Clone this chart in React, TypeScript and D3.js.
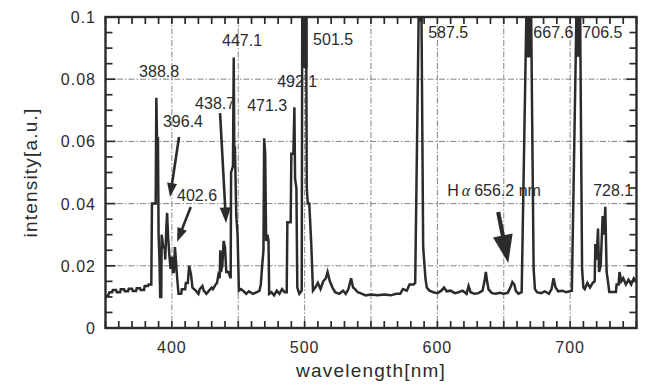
import * as d3 from 'd3';

const W = 647;
const H = 385;
const plot = { left: 105.5, right: 636.5, top: 17, bottom: 328 };

// emission spectrum: [wavelength nm, intensity a.u.]
const spectrum: [number, number][] = [
  [350, 0.01], [352, 0.0105], [353, 0.0115], [355, 0.0115], [355.5, 0.0122], [358, 0.0122],
  [358.5, 0.0115], [361, 0.0115], [361.5, 0.0125], [364, 0.0125], [364.5, 0.0118], [367, 0.0118],
  [367.5, 0.0126], [370, 0.0126], [370.5, 0.0119], [373, 0.0119], [373.5, 0.0128], [376, 0.0128],
  [376.5, 0.0122], [379, 0.0122], [379.5, 0.0135], [382, 0.0135], [382.5, 0.014], [384.5, 0.014],
  [385, 0.04], [387.8, 0.04], [388.3, 0.074], [388.8, 0.061], [389.5, 0.061], [390, 0.03],
  [390.7, 0.021], [391.2, 0.01], [392, 0.01], [392.3, 0.03], [393.5, 0.026], [394.5, 0.026],
  [395, 0.022], [395.8, 0.032], [396.4, 0.037], [397.2, 0.029], [398, 0.024], [399, 0.019],
  [400, 0.023], [400.8, 0.018], [401.5, 0.018], [402.3, 0.026], [403, 0.022], [404, 0.016],
  [405, 0.011], [407, 0.011], [407.5, 0.0125], [410, 0.0125], [410.5, 0.0145], [412, 0.0145],
  [413, 0.02], [414.5, 0.017], [415.5, 0.013], [418, 0.012], [420, 0.011], [421, 0.0125],
  [423, 0.0135], [424, 0.012], [426, 0.011], [428, 0.012], [430, 0.013], [431, 0.0125],
  [433, 0.014], [434, 0.0145], [435, 0.017], [436, 0.016], [436.5, 0.025], [437, 0.018],
  [438, 0.02], [439, 0.028], [440, 0.026], [441, 0.018], [442.5, 0.018], [444.3, 0.016],
  [444.6, 0.05], [446, 0.052], [446.6, 0.087], [447, 0.058], [447.5, 0.058], [448.5, 0.036],
  [449.5, 0.03], [450.5, 0.012], [452, 0.0125], [454, 0.0118], [456, 0.011], [458, 0.0118],
  [461, 0.011], [464, 0.0115], [466, 0.012], [467, 0.014], [468, 0.02], [469, 0.025],
  [469.5, 0.061], [470.3, 0.056], [471, 0.028], [472, 0.03], [472.8, 0.028], [473.3, 0.011],
  [475, 0.0115], [477, 0.0105], [479, 0.012], [481, 0.011], [483, 0.0125], [485, 0.0115],
  [486.5, 0.0115], [487, 0.034], [489.5, 0.034], [490, 0.056], [491.5, 0.056], [492.3, 0.071],
  [492.8, 0.048], [493.8, 0.045], [494.5, 0.013], [496, 0.011], [497.8, 0.012], [498.3, 0.12],
  [501, 0.12], [501.6, 0.045], [502.4, 0.04], [503.5, 0.04], [505, 0.027], [506.3, 0.012],
  [508, 0.013], [510, 0.0145], [512, 0.0125], [514, 0.015], [516, 0.016], [517.3, 0.018],
  [519, 0.015], [521, 0.013], [523, 0.0115], [526, 0.011], [529, 0.012], [531, 0.011],
  [533, 0.0125], [535, 0.016], [536.5, 0.013], [538, 0.0125], [540, 0.0115], [542, 0.0112],
  [546, 0.0105], [550, 0.0108], [555, 0.0105], [560, 0.0108], [565, 0.0105], [569, 0.011],
  [572, 0.011], [574, 0.0125], [577, 0.012], [579, 0.014], [582, 0.014], [583.3, 0.0145],
  [586.5, 0.12], [587.7, 0.12], [589.3, 0.026], [591, 0.016], [592, 0.013], [594, 0.012],
  [597, 0.0115], [600, 0.0112], [603, 0.012], [605, 0.013], [607, 0.0118], [610, 0.012],
  [613, 0.0112], [616, 0.0115], [619, 0.012], [622, 0.011], [623.5, 0.0135], [625, 0.0115],
  [628, 0.011], [631, 0.0112], [634, 0.012], [635.5, 0.015], [636.5, 0.018], [637.5, 0.015],
  [638.5, 0.0125], [641, 0.0112], [644, 0.011], [647, 0.0113], [650, 0.011], [653, 0.0113],
  [655.5, 0.0135], [656.5, 0.0148], [658, 0.014], [659, 0.012], [661, 0.011], [663.5, 0.0115],
  [667.8, 0.12], [670.2, 0.12], [672.5, 0.019], [673.5, 0.0125], [675, 0.0115], [678, 0.0112],
  [681, 0.0118], [684, 0.011], [686, 0.0125], [687.5, 0.016], [689, 0.013], [691, 0.0118],
  [694, 0.012], [697, 0.0115], [701.3, 0.012], [705.5, 0.12], [707.2, 0.12], [709, 0.019],
  [710, 0.013], [711, 0.0125], [713, 0.0145], [715, 0.013], [717, 0.0145], [718.5, 0.015],
  [719, 0.027], [720, 0.022], [721, 0.032], [721.8, 0.018], [723, 0.02], [724.5, 0.036],
  [725.5, 0.03], [726.5, 0.039], [727.5, 0.018], [728.5, 0.015], [729.5, 0.0116], [734.5, 0.0116],
  [735, 0.014], [736.5, 0.014], [737.2, 0.018], [738.5, 0.015], [740, 0.016], [742, 0.014],
  [744, 0.0155], [746, 0.014], [748, 0.016], [750, 0.015],
];

// saturated peak tops that print as solid black: [from nm, to nm, lower intensity]
const saturated: [number, number, number][] = [
  [498.1, 502.3, 0.0836], [585.6, 589.0, 0.0985], [666.2, 670.7, 0.087], [703.8, 708.1, 0.0872],
];

const peakNames = ['388.8', '396.4', '402.6', '438.7', '447.1', '471.3', '492.1', '501.5', '587.5', '667.6', '706.5', '728.1'];
const peakLabelAt: [number, number][] = [
  [375.3, 0.0807], [393.3, 0.0646], [403.9, 0.0408], [417.5, 0.0704], [437.8, 0.0907], [456.7, 0.0698],
  [479.3, 0.0775], [506.4, 0.091], [593.1, 0.0932], [672.3, 0.0932], [709.2, 0.0932], [717.4, 0.0424],
];
const halphaAt: [number, number] = [607.4, 0.0424];

// arrows: [tail nm, tail I, tip nm, tip I, head size]
const arrows: [number, number, number, number, number][] = [
  [405.4, 0.0614, 398.6, 0.0421, 1],
  [414.2, 0.0389, 403.9, 0.0277, 1],
  [436.3, 0.0691, 440.8, 0.0338, 1.1],
  [645.8, 0.0373, 653.4, 0.0209, 2],
];

const xTicks = [400, 500, 600, 700];
const xGrid = [400, 450, 500, 550, 600, 650, 700];
const yTicks = [0, 0.02, 0.04, 0.06, 0.08, 0.1];
const yTickLabels = ['0', '0.02', '0.04', '0.06', '0.08', '0.1'];

const ink = '#2b2b2b';
const font = 'Liberation Sans, Arial, Helvetica, sans-serif';

export default function App() {
  const x = d3.scaleLinear().domain([350, 750]).range([plot.left, plot.right]);
  const y = d3.scaleLinear().domain([0, 0.1]).range([plot.bottom, plot.top]);
  const line = d3
    .line<[number, number]>()
    .x((d) => x(d[0]))
    .y((d) => y(d[1]));

  const xMinor = d3.range(350, 751, 10);
  const yMinor = d3.range(0, 0.1001, 0.005);

  return (
    <svg width={W} height={H} style={{ position: 'absolute', left: 0, top: 0, background: '#fff' }}>
      <defs>
        <clipPath id="plotClip">
          <rect x={plot.left} y={plot.top} width={plot.right - plot.left} height={plot.bottom - plot.top} />
        </clipPath>
      </defs>

      {/* grid */}
      {xGrid.map((v) => (
        <line key={'gx' + v} x1={x(v)} x2={x(v)} y1={plot.top} y2={plot.bottom} stroke="#777" strokeWidth={0.9} strokeDasharray="6,2,1.5,2" />
      ))}
      {yTicks.slice(1, -1).map((v) => (
        <line key={'gy' + v} x1={plot.left} x2={plot.right} y1={y(v)} y2={y(v)} stroke="#777" strokeWidth={0.9} strokeDasharray="6,2,1.5,2" />
      ))}

      {/* spectrum */}
      <g clipPath="url(#plotClip)">
        <path d={line(spectrum) ?? ''} fill="none" stroke={ink} strokeWidth={2.5} strokeLinejoin="miter" />
        {saturated.map(([a, b, lo]) => (
          <rect key={'s' + a} x={x(a)} y={y(0.1)} width={x(b) - x(a)} height={y(lo) - y(0.1)} fill={ink} />
        ))}
      </g>

      {/* inward ticks */}
      {xMinor.map((v) => (
        <g key={'tx' + v} stroke={ink} strokeWidth={1.7}>
          <line x1={x(v)} x2={x(v)} y1={plot.bottom} y2={plot.bottom - 7} />
          <line x1={x(v)} x2={x(v)} y1={plot.top} y2={plot.top + 7} />
        </g>
      ))}
      {yMinor.map((v, i) => {
        const len = i % 4 === 0 ? 10 : 7;
        return (
          <g key={'ty' + i} stroke={ink} strokeWidth={1.7}>
            <line x1={plot.left} x2={plot.left + len} y1={y(v)} y2={y(v)} />
            <line x1={plot.right} x2={plot.right - len} y1={y(v)} y2={y(v)} />
          </g>
        );
      })}

      {/* frame */}
      <rect x={plot.left} y={plot.top} width={plot.right - plot.left} height={plot.bottom - plot.top} fill="none" stroke={ink} strokeWidth={2.4} />

      {/* tick labels */}
      {xTicks.map((v) => (
        <text key={'lx' + v} x={x(v)} y={353} textAnchor="middle" fontFamily={font} fontSize={16} letterSpacing={1} fill={ink}>
          {v}
        </text>
      ))}
      {yTicks.map((v, i) => (
        <text key={'ly' + v} x={96} y={y(v) + 6} textAnchor="end" fontFamily={font} fontSize={16} letterSpacing={1} fill={ink}>
          {yTickLabels[i]}
        </text>
      ))}

      {/* axis titles */}
      <text x={(plot.left + plot.right) / 2} y={377} textAnchor="middle" fontFamily={font} fontSize={19} letterSpacing={1.2} fill={ink}>
        wavelength[nm]
      </text>
      <text transform={`translate(37,${(plot.top + plot.bottom) / 2}) rotate(-90)`} textAnchor="middle" fontFamily={font} fontSize={19} letterSpacing={1.2} fill={ink}>
        intensity[a.u.]
      </text>

      {/* peak labels */}
      {peakNames.map((t, i) => (
        <text key={'pk' + t} x={x(peakLabelAt[i][0])} y={y(peakLabelAt[i][1])} fontFamily={font} fontSize={16} fill={ink}>
          {t}
        </text>
      ))}
      <text x={x(halphaAt[0])} y={y(halphaAt[1])} fontFamily={font} fontSize={16} fill={ink}>
        H
        <tspan fontFamily="Liberation Serif, serif" fontStyle="italic" dx={3}>α</tspan>
        <tspan dx={4}>656.2 nm</tspan>
      </text>

      {/* arrows */}
      {arrows.map(([l0, i0, l1, i1, s], k) => {
        const x0 = x(l0), y0 = y(i0), x1 = x(l1), y1 = y(i1);
        const dx = x1 - x0, dy = y1 - y0;
        const len = Math.hypot(dx, dy);
        const ux = dx / len, uy = dy / len;
        const hl = 14 * s, hw = 5 * s;
        const bx = x1 - ux * hl, by = y1 - uy * hl;
        const pts = [
          [x1, y1],
          [bx - uy * hw, by + ux * hw],
          [bx + uy * hw, by - ux * hw],
        ];
        return (
          <g key={'ar' + k}>
            <line x1={x0} y1={y0} x2={bx + ux * 2} y2={by + uy * 2} stroke={ink} strokeWidth={2.6 + (s > 1.5 ? 1.5 : 0)} />
            <polygon points={pts.map((p) => p.join(',')).join(' ')} fill={ink} />
          </g>
        );
      })}
    </svg>
  );
}
